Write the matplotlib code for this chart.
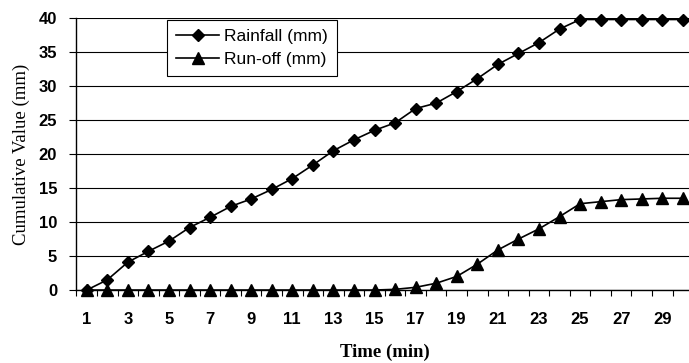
import numpy as np
import matplotlib
matplotlib.use("Agg")
import matplotlib.pyplot as plt

# Cumulative rainfall and run-off per minute
minutes = np.arange(1, 31)
rainfall = [0, 1.5, 4.1, 5.7, 7.2, 9.2, 10.7, 12.3, 13.4, 14.8,
            16.4, 18.4, 20.5, 22.1, 23.5, 24.6, 26.7, 27.5, 29.2, 31.1,
            33.2, 34.8, 36.4, 38.4, 39.8, 39.8, 39.8, 39.8, 39.8, 39.8]
runoff = [0, 0, 0, 0, 0, 0, 0, 0, 0, 0,
          0, 0, 0, 0, 0, 0.1, 0.4, 1.0, 2.0, 3.8,
          5.9, 7.5, 9.0, 10.8, 12.7, 13.0, 13.3, 13.4, 13.5, 13.5]
y_ticks = [0, 5, 10, 15, 20, 25, 30, 35, 40]

fig = plt.figure(figsize=(6.89, 3.63), dpi=100)
ax = fig.add_axes([0.111, 0.201, 0.895, 0.749])

idx = np.arange(len(minutes))
ax.plot(idx, rainfall, color='black', lw=1.2, marker='D', ms=6.5,
        mfc='black', mec='black', label='Rainfall (mm)', zorder=3, clip_on=False)
ax.plot(idx, runoff, color='black', lw=1.2, marker='^', ms=8.5,
        mfc='black', mec='black', label='Run-off (mm)', zorder=3, clip_on=False)

ax.set_xlim(-0.5, len(minutes) - 0.5)
ax.set_ylim(0, 40)
ax.set_yticks(y_ticks)
ax.yaxis.grid(True, color='black', lw=0.8)
ax.set_axisbelow(True)

# category axis: labels every other minute, tick marks between categories
ax.set_xticks(idx[::2])
ax.set_xticklabels([str(m) for m in minutes[::2]])
ax.set_xticks(np.arange(-0.5, len(minutes), 1), minor=True)
ax.tick_params(axis='x', which='major', length=0, pad=16)
ax.tick_params(axis='x', which='minor', length=4, width=0.8, direction='out')
ax.tick_params(axis='y', length=5, width=0.8, direction='out', pad=9)

for lab in ax.get_xticklabels() + ax.get_yticklabels():
    lab.set_fontfamily('Liberation Sans')
    lab.set_fontweight('bold')
    lab.set_fontsize(12)

for s in ['top', 'right']:
    ax.spines[s].set_visible(False)
ax.spines['left'].set_linewidth(1.0)
ax.spines['bottom'].set_linewidth(1.0)

ax.set_xlabel('Time (min)', family='Liberation Serif', fontweight='bold', fontsize=13.5, labelpad=12)
ax.set_ylabel('Cumulative Value (mm)', family='Liberation Serif', fontsize=13.5, labelpad=6)

leg = ax.legend(loc='upper left', bbox_to_anchor=(0.147, 0.993), borderaxespad=0,
                frameon=True, fancybox=False, edgecolor='black', framealpha=1,
                prop={'family': 'Liberation Sans', 'size': 12.5},
                handlelength=2.5, borderpad=0.5, labelspacing=0.45, handletextpad=0.3)
leg.get_frame().set_linewidth(0.8)

fig.savefig('out.png', dpi=100)
